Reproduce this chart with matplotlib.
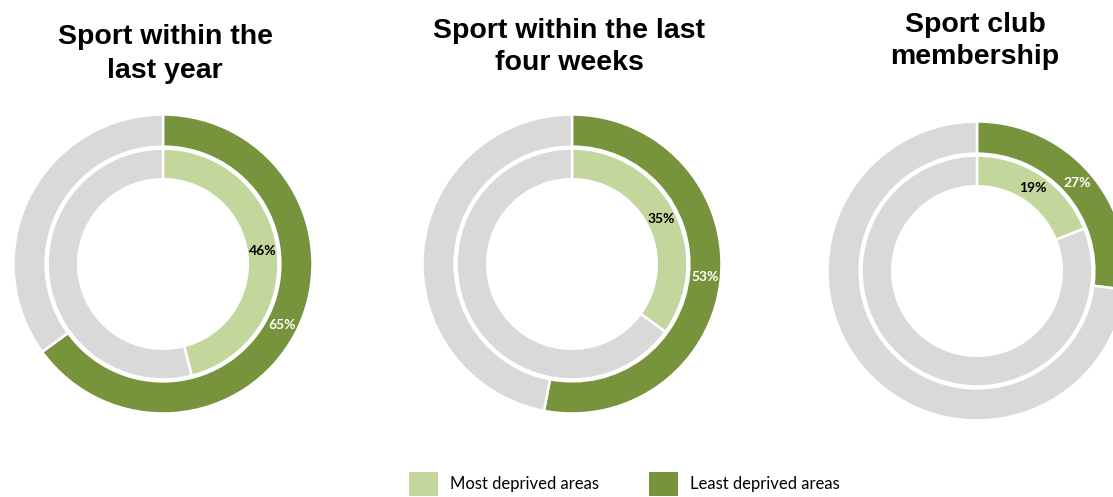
import matplotlib
matplotlib.use("Agg")
import matplotlib.pyplot as plt
import numpy as np
from matplotlib.patches import Patch

TITLES = ["Sport within the\nlast year",
          "Sport within the last\nfour weeks",
          "Sport club\nmembership"]
LEAST = [65, 53, 27]   # outer ring, least deprived areas (%)
MOST = [46, 35, 19]    # inner ring, most deprived areas (%)
LEGEND_LABELS = ["Most deprived areas", "Least deprived areas"]

DARK = "#77933C"
LIGHT = "#C3D69B"
GREY = "#D9D9D9"

W, H = 1113, 497
fig = plt.figure(figsize=(W / 100, H / 100), dpi=100)

# chart centres in pixels (from top-left) and title centres
CENTRES = [(163, 264), (572, 264), (977, 271)]
TITLE_POS = [(165, 54), (569, 47), (975, 41)]
R_PX = 149.5

OUT_R, OUT_W = 1.0, 0.215
IN_R, IN_W = 0.772, 0.205

def label(ax, value, r_mid, color):
    ang = np.deg2rad(90 - 360 * value / 100 / 2)
    ax.text(r_mid * np.cos(ang), r_mid * np.sin(ang), f"{value}%",
            ha="center", va="center", fontsize=10, fontweight="bold",
            color=color, family=["Lato", "DejaVu Sans"])

for i, (cx, cy) in enumerate(CENTRES):
    ax = fig.add_axes([(cx - R_PX) / W, 1 - (cy + R_PX) / H,
                       2 * R_PX / W, 2 * R_PX / H])
    ax.pie([LEAST[i], 100 - LEAST[i]], radius=OUT_R, colors=[DARK, GREY],
           startangle=90, counterclock=False,
           wedgeprops=dict(width=OUT_W, edgecolor="white", linewidth=1.8))
    ax.pie([MOST[i], 100 - MOST[i]], radius=IN_R, colors=[LIGHT, GREY],
           startangle=90, counterclock=False,
           wedgeprops=dict(width=IN_W, edgecolor="white", linewidth=1.8))
    label(ax, LEAST[i], OUT_R - OUT_W / 2, "white")
    label(ax, MOST[i], IN_R - IN_W / 2, "black")
    ax.set_xlim(-1, 1)
    ax.set_ylim(-1, 1)
    ax.set_aspect("equal")
    ax.axis("off")

    tx, ty = TITLE_POS[i]
    fig.text(tx / W, 1 - ty / H, TITLES[i], ha="center", va="center",
             fontsize=20.5, fontweight="bold", linespacing=1.35,
             family=["Liberation Sans", "DejaVu Sans"])

handles = [Patch(facecolor=LIGHT, edgecolor="none"),
           Patch(facecolor=DARK, edgecolor="none")]
fig.legend(handles, LEGEND_LABELS, loc="center", ncol=2,
           bbox_to_anchor=(0.561, 1 - 484 / H), frameon=False,
           prop=dict(family="Lato", size=12),
           handlelength=1.75, handleheight=1.75, handletextpad=0.7,
           columnspacing=3.0)

fig.savefig("out.png", dpi=100)
